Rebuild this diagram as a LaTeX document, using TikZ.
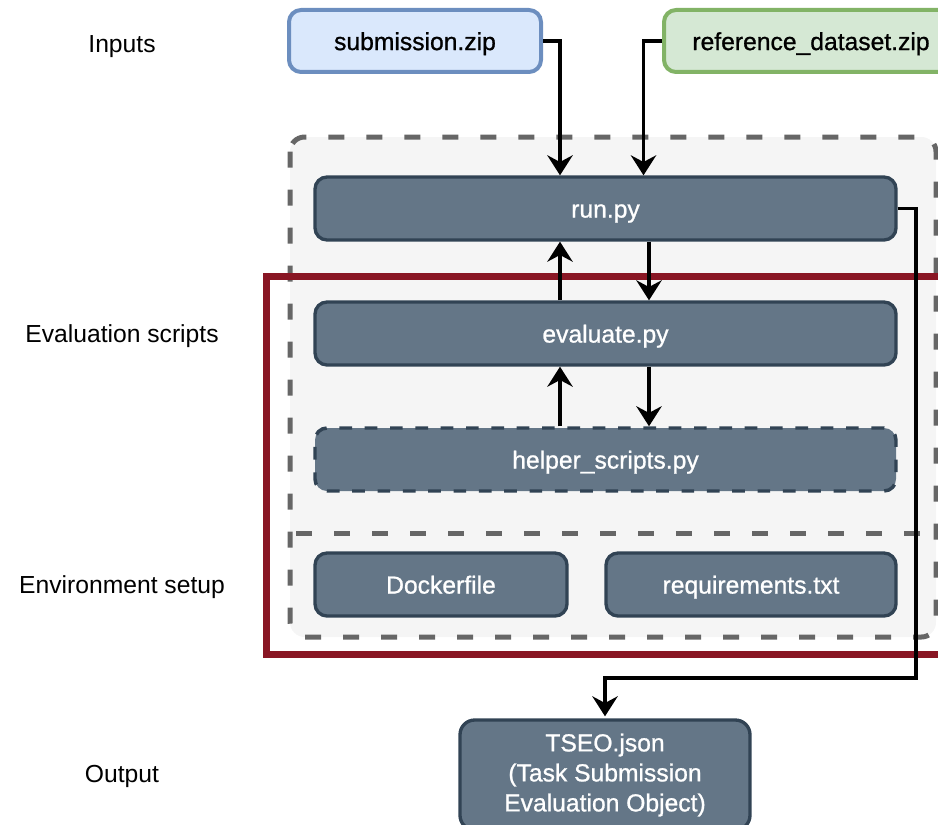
\documentclass[tikz,border=0pt]{standalone}
\usepackage{fontspec}
\setmainfont{Liberation Sans}
\newfontfamily\boxfont{Liberation Sans}[FakeBold=0.9]
\usetikzlibrary{arrows.meta,calc}

\definecolor{slatefill}{HTML}{647687}
\definecolor{slateline}{HTML}{314354}
\definecolor{bluefill}{HTML}{DAE8FC}
\definecolor{blueline}{HTML}{6C8EBF}
\definecolor{greenfill}{HTML}{D5E8D4}
\definecolor{greenline}{HTML}{82B366}
\definecolor{groupfill}{HTML}{F5F5F5}
\definecolor{groupline}{HTML}{666666}
\definecolor{frame}{HTML}{891624}

\tikzset{
  box/.style={draw=slateline, fill=slatefill, line width=2.5pt, rounded corners=9pt,
    text=white, font=\boxfont\fontsize{18.5}{22.5}\selectfont, inner sep=0pt, anchor=center,
    text height=13.6pt, text depth=0pt},
  inputbox/.style={line width=3pt, rounded corners=9pt, text=black,
    font=\boxfont\fontsize{18.5}{22.5}\selectfont, inner sep=0pt, minimum height=46.5pt,
    text height=13.6pt, text depth=0pt},
  rowlabel/.style={font=\fontsize{18.5}{22}\selectfont, text=black, anchor=center,
    text height=13.6pt, text depth=0pt, inner sep=0pt},
  groupdash/.style={draw=groupline, line width=3.75pt, dash pattern=on 12pt off 16.5pt},
  arr/.style={draw=black, line width=2.6pt,
    -{Stealth[length=15pt, width=19pt, inset=5pt]}},
}

\begin{document}
\begin{tikzpicture}[x=0.75pt, y=-0.75pt]
\useasboundingbox (0,0) rectangle (938,824);
\clip (0,0) rectangle (938,824);

% row labels
\node[rowlabel] (lin)  at (122,43)  {Inputs};
\node[rowlabel] (leval) at (122,333) {Evaluation scripts};
\node[rowlabel] (lenv) at (122,584) {Environment setup};
\node[rowlabel] (lout) at (122,773) {Output};

% container of the evaluation package
\path[fill=groupfill, groupdash, rounded corners=11pt] (290,137) rectangle (936,637);
\draw[groupdash] (296,533) -- (938,533);

% highlighted region
\draw[draw=frame, line width=4.8pt] (266.5,276.5) rectangle (990,654.5);

% inputs
\node[inputbox, draw=blueline, fill=bluefill, minimum width=189pt] (sub) at (415,41) {submission.zip};
\node[inputbox, draw=greenline, fill=greenfill, minimum width=220.5pt] (ref) at (811,41) {reference\_dataset.zip};

% scripts
\node[box, minimum width=435.75pt, minimum height=47.25pt] (run) at (605.5,208.5) {run.py};
\node[box, minimum width=435.75pt, minimum height=47.25pt] (eval) at (605.5,333.5) {evaluate.py};
\node[box, minimum width=435.75pt, minimum height=47.25pt,
      dash pattern=on 9.5pt off 9.5pt, line width=2.6pt] (help) at (605.5,459.5) {helper\_scripts.py};

% environment
\node[box, minimum width=189pt, minimum height=47.25pt] (docker) at (441,584.5) {Dockerfile};
\node[box, minimum width=217.5pt, minimum height=47.25pt] (req) at (751,584.5) {requirements.txt};

% output
\node[box, minimum width=217.5pt, minimum height=82.5pt, rounded corners=11pt, align=center,
      text height=, text depth=] (tseo) at (605,775)
  {TSEO.json\\(Task Submission\\Evaluation Object)};

% connector lanes
\coordinate (xa) at (560,0);
\coordinate (xb) at (649,0);
\coordinate (xr) at (643.5,0);
\coordinate (bend) at (916,678);

\draw[arr] (sub.east) -| (xa |- run.north);
\draw[arr] (ref.west) -| (xr |- run.north);
\draw[arr] (xa |- eval.north) -- (xa |- run.south);
\draw[arr] (xb |- run.south) -- (xb |- eval.north);
\draw[arr] (xa |- help.north) -- (xa |- eval.south);
\draw[arr] (xb |- eval.south) -- (xb |- help.north);
\draw[arr] (run.east) -| (bend) -| ([yshift=1.5pt]tseo.north);
\end{tikzpicture}
\end{document}
